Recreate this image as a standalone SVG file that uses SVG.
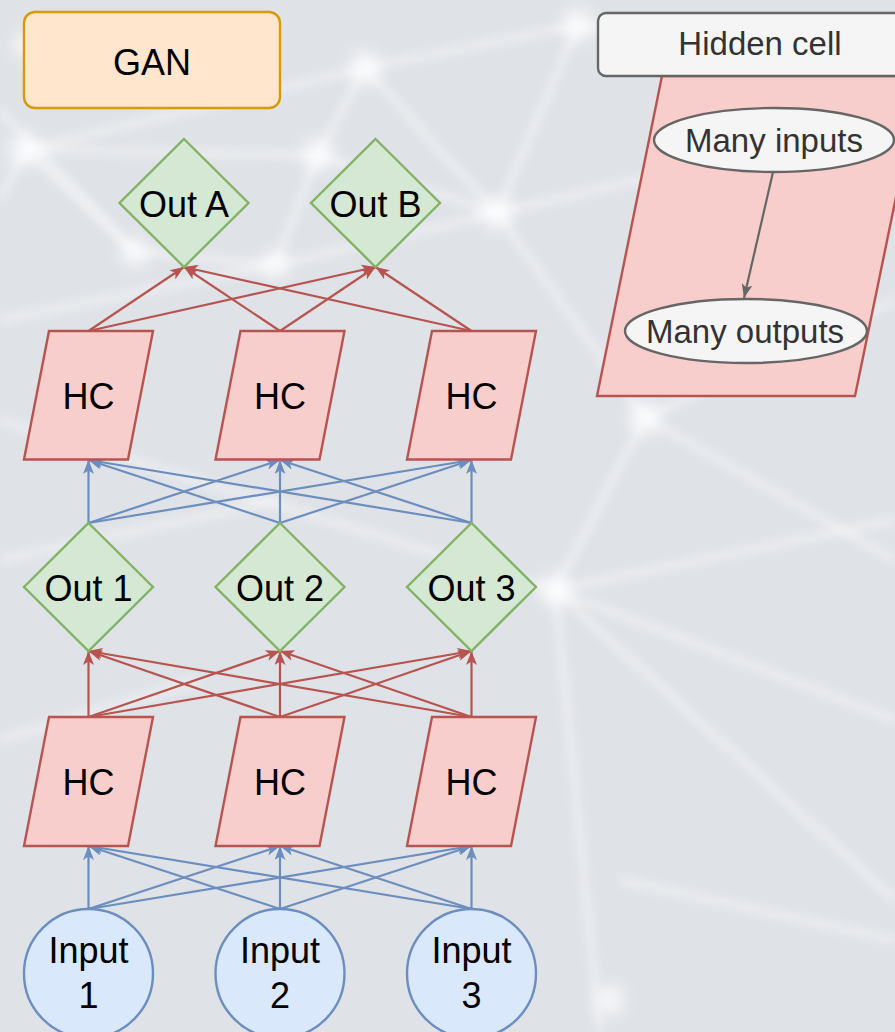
<svg xmlns="http://www.w3.org/2000/svg" width="895" height="1032" viewBox="0 0 895 1032">
  <style>
    text { font-family: "Liberation Sans", Arial, sans-serif; text-anchor: middle; }
    .lbl { font-size: 36px; fill: #000; }
    .sub { font-size: 33px; fill: #333; }
    .hc { fill: #f8cecc; stroke: #b85450; stroke-width: 2.4; }
    .out { fill: #d5e8d4; stroke: #82b366; stroke-width: 2.4; }
    .inp { fill: #dae8fc; stroke: #6c8ebf; stroke-width: 2.4; }
    .ell { fill: #f5f5f5; stroke: #666; stroke-width: 2.4; }
    .red { stroke: #b85450; stroke-width: 2.2; fill: none; marker-end: url(#aRed); }
    .blue { stroke: #6c8ebf; stroke-width: 2.2; fill: none; marker-end: url(#aBlue); }
    .gray { stroke: #666; stroke-width: 2.2; fill: none; marker-end: url(#aGray); }
    .bgl { stroke: #ffffff; stroke-opacity: 0.4; stroke-width: 8; fill: none; }
    .bgd { fill: #ffffff; fill-opacity: 0.75; }
  </style>
  <defs>
    <marker id="aRed" viewBox="0 0 14 11" refX="14" refY="5.5" markerWidth="14" markerHeight="11" orient="auto" markerUnits="userSpaceOnUse">
      <path d="M0,0 L14,5.5 L0,11 L3.5,5.5 Z" fill="#b85450"/>
    </marker>
    <marker id="aBlue" viewBox="0 0 14 11" refX="14" refY="5.5" markerWidth="14" markerHeight="11" orient="auto" markerUnits="userSpaceOnUse">
      <path d="M0,0 L14,5.5 L0,11 L3.5,5.5 Z" fill="#6c8ebf"/>
    </marker>
    <marker id="aGray" viewBox="0 0 14 11" refX="14" refY="5.5" markerWidth="14" markerHeight="11" orient="auto" markerUnits="userSpaceOnUse">
      <path d="M0,0 L14,5.5 L0,11 L3.5,5.5 Z" fill="#666"/>
    </marker>
    <filter id="blur" x="-20%" y="-20%" width="140%" height="140%">
      <feGaussianBlur stdDeviation="4"/>
    </filter>
    <filter id="glow" x="-100%" y="-100%" width="300%" height="300%">
      <feGaussianBlur stdDeviation="8"/>
    </filter>
  </defs>

  <g id="background">
    <rect x="0" y="0" width="895" height="1032" fill="#dfe2e7"/>
    <g filter="url(#blur)">
      <path class="bgl" d="M25,150 L365,68 L578,25 L895,60"/>
      <path class="bgl" d="M25,150 L318,155 L497,213 L895,120"/>
      <path class="bgl" d="M0,110 L135,252 L275,265 L497,213"/>
      <path class="bgl" d="M365,68 L318,155 L275,265"/>
      <path class="bgl" d="M365,68 L497,213 L645,418"/>
      <path class="bgl" d="M578,25 L497,213"/>
      <path class="bgl" d="M135,252 L25,150 L0,200"/>
      <path class="bgl" d="M275,265 L0,320"/>
      <path class="bgl" d="M645,418 L895,300"/>
      <path class="bgl" d="M645,418 L895,560"/>
      <path class="bgl" d="M645,418 L555,590 L895,720"/>
      <path class="bgl" d="M555,590 L895,900"/>
      <path class="bgl" d="M555,590 L600,1032"/>
      <path class="bgl" d="M555,590 L895,520"/>
      <path class="bgl" d="M0,420 L555,590"/>
      <path class="bgl" d="M0,560 L280,500"/>
      <path class="bgl" d="M620,880 L895,940"/>
      <path class="bgl" d="M0,740 L200,680"/>
    </g>
    <g filter="url(#glow)">
      <circle class="bgd" cx="25" cy="150" r="16"/>
      <circle class="bgd" cx="365" cy="68" r="16"/>
      <circle class="bgd" cx="318" cy="155" r="16"/>
      <circle class="bgd" cx="497" cy="213" r="16"/>
      <circle class="bgd" cx="578" cy="25" r="16"/>
      <circle class="bgd" cx="135" cy="252" r="14"/>
      <circle class="bgd" cx="275" cy="265" r="14"/>
      <circle class="bgd" cx="645" cy="418" r="16"/>
      <circle class="bgd" cx="555" cy="590" r="16"/>
      <circle class="bgd" cx="25" cy="45" r="12"/>
      <circle class="bgd" cx="610" cy="1000" r="14"/>
    </g>
  </g>

  <g id="hidden-cell-body">
    <polygon class="hc" points="662,76 921,76 855,396 597,396"/>
  </g>

  <g id="connectors">
    <!-- upper HC to Out A / Out B -->
    <line class="red" x1="88.5" y1="331" x2="184" y2="267"/>
    <line class="red" x1="88.5" y1="331" x2="375.5" y2="267"/>
    <line class="red" x1="280" y1="331" x2="184" y2="267"/>
    <line class="red" x1="280" y1="331" x2="375.5" y2="267"/>
    <line class="red" x1="471.5" y1="331" x2="184" y2="267"/>
    <line class="red" x1="471.5" y1="331" x2="375.5" y2="267"/>
    <!-- Out row to upper HC -->
    <line class="blue" x1="88.5" y1="523" x2="88.5" y2="460"/>
    <line class="blue" x1="88.5" y1="523" x2="280" y2="460"/>
    <line class="blue" x1="88.5" y1="523" x2="471.5" y2="460"/>
    <line class="blue" x1="280" y1="523" x2="88.5" y2="460"/>
    <line class="blue" x1="280" y1="523" x2="280" y2="460"/>
    <line class="blue" x1="280" y1="523" x2="471.5" y2="460"/>
    <line class="blue" x1="471.5" y1="523" x2="88.5" y2="460"/>
    <line class="blue" x1="471.5" y1="523" x2="280" y2="460"/>
    <line class="blue" x1="471.5" y1="523" x2="471.5" y2="460"/>
    <!-- lower HC to Out row -->
    <line class="red" x1="88.5" y1="717" x2="88.5" y2="651"/>
    <line class="red" x1="88.5" y1="717" x2="280" y2="651"/>
    <line class="red" x1="88.5" y1="717" x2="471.5" y2="651"/>
    <line class="red" x1="280" y1="717" x2="88.5" y2="651"/>
    <line class="red" x1="280" y1="717" x2="280" y2="651"/>
    <line class="red" x1="280" y1="717" x2="471.5" y2="651"/>
    <line class="red" x1="471.5" y1="717" x2="88.5" y2="651"/>
    <line class="red" x1="471.5" y1="717" x2="280" y2="651"/>
    <line class="red" x1="471.5" y1="717" x2="471.5" y2="651"/>
    <!-- inputs to lower HC -->
    <line class="blue" x1="88.5" y1="909" x2="88.5" y2="846"/>
    <line class="blue" x1="88.5" y1="909" x2="280" y2="846"/>
    <line class="blue" x1="88.5" y1="909" x2="471.5" y2="846"/>
    <line class="blue" x1="280" y1="909" x2="88.5" y2="846"/>
    <line class="blue" x1="280" y1="909" x2="280" y2="846"/>
    <line class="blue" x1="280" y1="909" x2="471.5" y2="846"/>
    <line class="blue" x1="471.5" y1="909" x2="88.5" y2="846"/>
    <line class="blue" x1="471.5" y1="909" x2="280" y2="846"/>
    <line class="blue" x1="471.5" y1="909" x2="471.5" y2="846"/>
    <!-- hidden cell legend -->
    <line class="gray" x1="773" y1="172" x2="744" y2="298"/>
  </g>

  <g id="gan">
    <rect x="24" y="12" width="256" height="96" rx="11" fill="#ffe6cc" stroke="#d79b00" stroke-width="2.4"/>
    <text class="lbl" x="152" y="75">GAN</text>
  </g>

  <g id="hidden-cell">
    <rect x="598" y="13" width="324" height="63" rx="8" fill="#f5f5f5" stroke="#666" stroke-width="2.4"/>
    <text class="sub" x="760" y="55">Hidden cell</text>
  </g>
  <g id="many-inputs">
    <ellipse class="ell" cx="774" cy="140" rx="120" ry="32"/>
    <text class="sub" x="774" y="152">Many inputs</text>
  </g>
  <g id="many-outputs">
    <ellipse class="ell" cx="746" cy="331" rx="121" ry="32"/>
    <text class="sub" x="745" y="343">Many outputs</text>
  </g>

  <g id="out-a">
    <polygon class="out" points="184,139 248.5,203 184,267 119.5,203"/>
    <text class="lbl" x="184" y="217">Out A</text>
  </g>
  <g id="out-b">
    <polygon class="out" points="375.5,139 440,203 375.5,267 311,203"/>
    <text class="lbl" x="375.5" y="217">Out B</text>
  </g>

  <g id="hc-u1">
    <polygon class="hc" points="49,331 153,331 128,459.5 24,459.5"/>
    <text class="lbl" x="88.5" y="409">HC</text>
  </g>
  <g id="hc-u2">
    <polygon class="hc" points="240.5,331 344.5,331 319.5,459.5 215.5,459.5"/>
    <text class="lbl" x="280" y="409">HC</text>
  </g>
  <g id="hc-u3">
    <polygon class="hc" points="432,331 536,331 511,459.5 407,459.5"/>
    <text class="lbl" x="471.5" y="409">HC</text>
  </g>

  <g id="out-1">
    <polygon class="out" points="88.5,523 153,587 88.5,651 24,587"/>
    <text class="lbl" x="88.5" y="601">Out 1</text>
  </g>
  <g id="out-2">
    <polygon class="out" points="280,523 344.5,587 280,651 215.5,587"/>
    <text class="lbl" x="280" y="601">Out 2</text>
  </g>
  <g id="out-3">
    <polygon class="out" points="471.5,523 536,587 471.5,651 407,587"/>
    <text class="lbl" x="471.5" y="601">Out 3</text>
  </g>

  <g id="hc-l1">
    <polygon class="hc" points="49,717 153,717 128,846 24,846"/>
    <text class="lbl" x="88.5" y="795">HC</text>
  </g>
  <g id="hc-l2">
    <polygon class="hc" points="240.5,717 344.5,717 319.5,846 215.5,846"/>
    <text class="lbl" x="280" y="795">HC</text>
  </g>
  <g id="hc-l3">
    <polygon class="hc" points="432,717 536,717 511,846 407,846"/>
    <text class="lbl" x="471.5" y="795">HC</text>
  </g>

  <g id="input-1">
    <circle class="inp" cx="88.5" cy="973.5" r="64.5"/>
    <text class="lbl" x="88.5" y="963">Input</text>
    <text class="lbl" x="88.5" y="1008">1</text>
  </g>
  <g id="input-2">
    <circle class="inp" cx="280" cy="973.5" r="64.5"/>
    <text class="lbl" x="280" y="963">Input</text>
    <text class="lbl" x="280" y="1008">2</text>
  </g>
  <g id="input-3">
    <circle class="inp" cx="471.5" cy="973.5" r="64.5"/>
    <text class="lbl" x="471.5" y="963">Input</text>
    <text class="lbl" x="471.5" y="1008">3</text>
  </g>
</svg>
